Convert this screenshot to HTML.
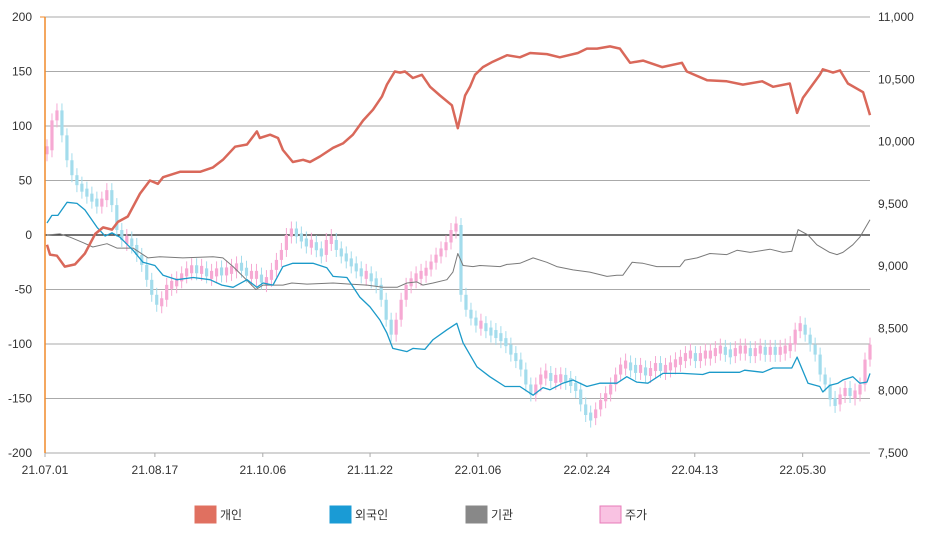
<!DOCTYPE html>
<html><head><meta charset="utf-8"><style>
html,body{margin:0;padding:0;background:#fff;}
svg{display:block;font-family:"Liberation Sans","Noto Sans CJK KR",sans-serif;}
</style></head><body>
<svg id="chart" width="927" height="536" viewBox="0 0 927 536" xmlns="http://www.w3.org/2000/svg">
<g id="grid"></g>
<g id="candles"></g>
<g id="lines"></g>
<g id="axes"></g>
<g id="legend"></g>
</svg>
<script>
const leftTicks=[200,150,100,50,0,-50,-100,-150,-200];
const rightTicks=["11,000","10,500","10,000","9,500","9,000","8,500","8,000","7,500"];
const rightTickVals=[11000,10500,10000,9500,9000,8500,8000,7500];
const dateLabels=["21.07.01","21.08.17","21.10.06","21.11.22","22.01.06","22.02.24","22.04.13","22.05.30"];
const dateDays=[0,33.3,66,98.5,131.2,164.2,196.9,229.6];
const personalSeries=[[0.6,-9],[1.5,-18],[3.6,-19],[6,-29],[9.1,-27],[12.1,-17],[15.2,1],[17.6,7],[20.3,5],[22.1,12],[25.1,17],[28.8,38],[31.8,50],[34.2,47],[35.8,53],[40.9,58],[47,58],[50.9,62],[53.9,69],[57.6,81],[61.2,83],[64.2,95],[65.1,89],[68.2,92],[70.6,89],[72.1,78],[75.1,67],[78.2,69],[80.3,67],[83.3,72],[87.3,80],[90.3,84],[93.3,92],[96.4,105],[99.4,115],[102.1,127],[103.6,138],[106,150],[107.6,149],[109.1,150],[111.5,144],[114.2,147],[116.7,136],[119.7,128],[123.3,119],[125.1,98],[127.3,128],[128.8,136],[130.3,147],[132.7,154],[135.7,159],[140,165],[143.9,163],[147,167],[152.1,166],[156,163],[161.5,167],[164.2,171],[167.3,171],[171.2,173],[174.2,171],[177.3,158],[181.2,160],[187,154],[193,158],[194.5,150],[200.6,142],[206.6,141],[211.5,138],[217.3,141],[220.6,136],[225.7,139],[227.9,112],[229.7,126],[234.8,147],[235.7,152],[238.8,149],[240.9,151],[243.3,139],[247.9,131],[250,110]];
const foreignSeries=[[0.6,11],[2.1,18],[3.9,18],[6.7,30],[9.7,29],[12.1,23],[15.8,7],[18.2,-1],[20.3,2],[22.7,-2],[26.7,-14],[29.7,-25],[33.3,-28],[35.8,-37],[40,-41],[44.9,-39],[50,-41],[53.6,-46],[57,-48],[61.2,-41],[64.2,-48],[66.1,-44],[69.1,-46],[72.1,-29],[75.1,-26],[81.2,-26],[85.4,-30],[87.3,-38],[91.5,-39],[95.4,-57],[98.5,-66],[101.5,-78],[103.6,-90],[105.4,-104],[109.7,-107],[111.5,-104],[115.1,-105],[117.6,-96],[121.8,-87],[124.8,-81],[126.7,-99],[130.9,-121],[134.8,-130],[139.4,-139],[143.9,-139],[147.9,-147],[150.9,-140],[153,-142],[156.9,-136],[160,-133],[164.2,-139],[168.1,-136],[173.3,-136],[176.3,-130],[179.3,-135],[182.7,-136],[187.2,-127],[193.2,-127],[199.3,-128],[201.4,-126],[210.5,-126],[212,-124],[217.5,-126],[220.6,-122],[226.3,-122],[227.9,-112],[231.2,-136],[234.8,-139],[235.7,-144],[237.8,-138],[240.3,-136],[241.8,-133],[244.8,-130],[246.9,-136],[249.1,-135],[250,-127]];
const institutionSeries=[[0.6,0],[4.5,1],[7.6,-2],[11.5,-7],[14.5,-11],[18.8,-8],[21.8,-12],[26.7,-12],[31.2,-21],[34.8,-20],[41.8,-21],[50.9,-20],[53.9,-21],[57,-29],[60,-38],[63.9,-50],[66.1,-46],[72.1,-46],[74.8,-44],[79.4,-45],[87.3,-44],[92.4,-45],[97.6,-46],[102.4,-48],[106.7,-48],[109.7,-44],[112.7,-43],[114.5,-46],[117.6,-44],[121.8,-41],[123.6,-34],[125.1,-17],[126.7,-28],[129.7,-29],[131.8,-28],[137.9,-29],[140,-27],[143.9,-26],[147.9,-21],[152.1,-25],[155.1,-29],[160,-32],[165.1,-34],[170.3,-38],[173.3,-37],[175.1,-37],[177.9,-25],[181.2,-26],[185.4,-29],[192.4,-29],[193.9,-23],[197.6,-21],[201.5,-17],[206.6,-18],[209.7,-14],[213.7,-16],[219.7,-13],[223.6,-16],[226.3,-15],[228.2,5],[231.2,0],[233.9,-9],[237.8,-16],[240,-18],[241.8,-16],[244.8,-9],[246.9,-2],[250,14]];
const priceClose=[9930,10170,10250,10050,9850,9730,9650,9610,9570,9530,9490,9530,9610,9490,9290,9210,9210,9170,9090,9010,8890,8770,8690,8730,8850,8850,8890,8930,8970,8980,8970,8970,8930,8930,8970,8945,8970,8970,9010,8980,8930,8930,8930,8870,8890,8970,9050,9130,9250,9290,9250,9210,9170,9190,9130,9090,9210,9210,9130,9090,9050,9010,8970,8930,8930,8890,8850,8730,8570,8450,8570,8730,8850,8890,8930,8930,8980,9030,9090,9130,9190,9290,9330,8770,8650,8580,8530,8530,8490,8460,8450,8410,8370,8290,8250,8170,8050,7970,8050,8130,8130,8090,8100,8100,8090,8050,8010,7890,7805,7780,7850,7925,7970,8050,8130,8210,8210,8180,8170,8180,8130,8170,8210,8170,8180,8210,8230,8250,8290,8290,8250,8290,8290,8290,8330,8330,8310,8290,8330,8330,8330,8290,8330,8330,8310,8330,8310,8330,8330,8370,8490,8530,8450,8370,8290,8130,8050,7930,7890,7970,8010,7970,7970,8050,8250,8370];

const NS="http://www.w3.org/2000/svg";
const X0=45,X1=870,YT=17,YB=453;
function xScale(d){return X0+d*3.3;}
function yL(v){return 235-v*109/100;}
function yR(p){return YT+(11000-p)*(YB-YT)/3500;}
function mk(tag,attrs,parent){const e=document.createElementNS(NS,tag);for(const k in attrs)e.setAttribute(k,attrs[k]);parent.appendChild(e);return e;}
const grid=document.getElementById('grid'),axes=document.getElementById('axes'),cg=document.getElementById('candles'),lg=document.getElementById('lines'),leg=document.getElementById('legend');

leftTicks.forEach(v=>{
  const l=mk('line',{x1:X0,x2:X1,y1:yL(v),y2:yL(v),stroke:v===0?'#222':'#aaa','stroke-width':v===0?1.3:1},grid);
  
  
  const t=mk('text',{x:32,y:yL(v)+4,'text-anchor':'end','font-size':12,fill:'#333'},axes);
  t.textContent=v;
  
  
});
rightTickVals.forEach((p,i)=>{
  const t=mk('text',{x:878,y:yR(p)+4,'font-size':12,fill:'#333'},axes);
  t.textContent=rightTicks[i];
  
  
});
dateLabels.forEach((s,i)=>{
  const x=xScale(dateDays[i]);
  const tk=mk('line',{x1:x,x2:x,y1:YB,y2:YB+4,stroke:'#aaa'},axes);
  
  
  const t=mk('text',{x:x,y:474,'text-anchor':'middle','font-size':12,fill:'#333'},axes);
  t.textContent=s;
  
  
});
const ax=mk('line',{x1:X0,x2:X0,y1:YT,y2:YB,stroke:'#f08a2a','stroke-width':1.5},axes);


const lt=mk('line',{x1:X0-5,x2:X0,y1:YT,y2:YT,stroke:'#f08a2a'},axes);



const N=priceClose.length;
priceClose.forEach((c,i)=>{
  const o=i>0?priceClose[i-1]:c;
  const d=0.6+i*249.4/(N-1);
  const x=xScale(d);
  const up=c>=o;
  const col=up?'#f6a9d3':'#a3dcec';
  let y1=yR(Math.max(o,c)),y2=yR(Math.min(o,c));
  if(y2-y1<8){const m=(y1+y2)/2;y1=m-4;y2=m+4;}
  const w=mk('line',{x1:x,x2:x,y1:y1-7,y2:y2+7,stroke:col,'stroke-width':1},cg);
  
  
  const r=mk('rect',{x:x-1.6,y:y1,width:3.2,height:y2-y1,fill:col},cg);
  
  
});
function drawLine(series,color,w,name){
  const d=series.map((p,i)=>(i?'L':'M')+xScale(p[0]).toFixed(1)+','+yL(p[1]).toFixed(1)).join('');
  const pth=mk('path',{d:d,fill:'none',stroke:color,'stroke-width':w,'stroke-linejoin':'round'},lg);
  
  
}
drawLine(institutionSeries,'#7a7a7a',1,'institution-line');
drawLine(foreignSeries,'#1b9ac9',1.3,'foreign-line');
drawLine(personalSeries,'#d9685a',2.5,'personal-line');

const legendItems=[["개인","#e07060","#e07060",195],["외국인","#1a9bd5","#1a9bd5",330],["기관","#888888","#888888",466],["주가","#f9c2e2","#e77bb8",600]];
legendItems.forEach(it=>{
  const r=mk('rect',{x:it[3],y:506,width:21,height:17,fill:it[1],stroke:it[2],'stroke-width':1},leg);
  
  
  const t=mk('text',{x:it[3]+25,y:519,'font-size':12,fill:'#333'},leg);
  t.textContent=it[0];
  
  
});
</script>
</body></html>
